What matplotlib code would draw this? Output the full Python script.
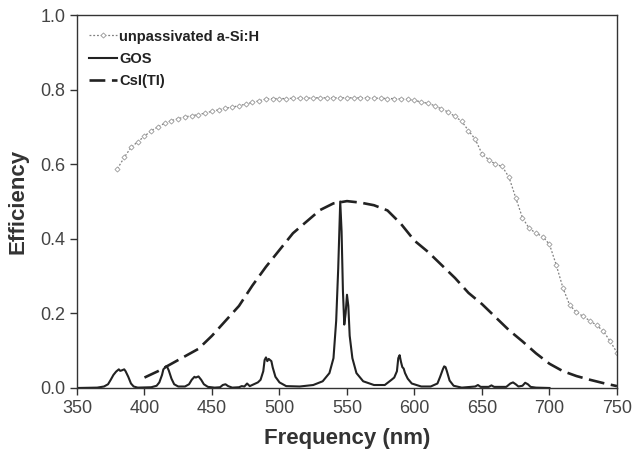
import matplotlib
matplotlib.use("Agg")
import matplotlib.pyplot as plt

plt.rcParams['font.family'] = ['Liberation Sans', 'DejaVu Sans']

# unpassivated a-Si:H
asi_x = [380, 385, 390, 395, 400, 405, 410, 415, 420, 425, 430, 435, 440, 445, 450,
         455, 460, 465, 470, 475, 480, 485, 490, 495, 500, 505, 510, 515, 520, 525,
         530, 535, 540, 545, 550, 555, 560, 565, 570, 575, 580, 585, 590, 595, 600,
         605, 610, 615, 620, 625, 630, 635, 640, 645, 650, 655, 660, 665, 670, 675,
         680, 685, 690, 695, 700, 705, 710, 715, 720, 725, 730, 735, 740, 745, 750]
asi_y = [0.588, 0.618, 0.645, 0.660, 0.675, 0.690, 0.700, 0.710, 0.717, 0.722, 0.727,
         0.730, 0.733, 0.737, 0.742, 0.746, 0.750, 0.753, 0.757, 0.761, 0.766, 0.770,
         0.775, 0.776, 0.776, 0.776, 0.777, 0.777, 0.777, 0.778, 0.778, 0.778, 0.778,
         0.778, 0.778, 0.778, 0.778, 0.778, 0.777, 0.777, 0.776, 0.776, 0.775, 0.774,
         0.771, 0.767, 0.763, 0.757, 0.748, 0.740, 0.728, 0.715, 0.690, 0.667, 0.628,
         0.612, 0.600, 0.594, 0.565, 0.510, 0.456, 0.428, 0.415, 0.406, 0.385, 0.330,
         0.268, 0.222, 0.203, 0.192, 0.180, 0.168, 0.152, 0.125, 0.095]

# GOS emission
gos_x = [350, 365, 370, 373, 375, 377, 379, 381, 382, 383, 385, 386, 388, 390, 392, 395,
         405, 409, 411, 413, 414, 416, 417, 418, 420, 422, 425, 430, 433, 435, 437, 438,
         440, 442, 444, 447, 452, 456, 458, 460, 462, 465, 470, 472, 474, 476, 478, 481,
         484, 486, 488, 489, 490, 491, 492, 494, 495, 497, 500, 505, 515, 525, 532, 537,
         540, 542, 543.5, 545, 546, 547, 548, 549, 550, 551, 552, 554, 557, 562, 570,
         578, 583, 585, 587, 588, 589, 590, 591, 592, 593, 595, 598, 605, 612, 617, 619,
         621, 622, 623, 624, 626, 629, 635, 645, 647, 649, 655, 657, 659, 668, 671, 673,
         675, 677, 680, 682, 684, 686, 690, 700]
gos_y = [0.0, 0.001, 0.004, 0.010, 0.022, 0.035, 0.044, 0.050, 0.046, 0.047, 0.050, 0.045,
         0.030, 0.012, 0.004, 0.001,
         0.002, 0.006, 0.015, 0.035, 0.050, 0.058, 0.055, 0.047, 0.025, 0.010, 0.004,
         0.004, 0.010, 0.022, 0.030, 0.028,
         0.031, 0.022, 0.010, 0.003, 0.001, 0.002, 0.008, 0.010, 0.005, 0.001, 0.002,
         0.005, 0.004, 0.012, 0.005, 0.010,
         0.015, 0.022, 0.045, 0.075, 0.082, 0.072, 0.078, 0.072, 0.055, 0.030, 0.015,
         0.005, 0.004, 0.008, 0.018, 0.040,
         0.080, 0.180, 0.320, 0.500, 0.420, 0.260, 0.170, 0.200, 0.250, 0.220, 0.140,
         0.080, 0.040, 0.018, 0.008,
         0.008, 0.022, 0.028, 0.045, 0.080, 0.088, 0.070, 0.056, 0.052, 0.040, 0.025,
         0.012, 0.004, 0.004, 0.012, 0.030,
         0.050, 0.058, 0.056, 0.045, 0.020, 0.006, 0.001, 0.004, 0.008, 0.003, 0.003,
         0.007, 0.003, 0.003, 0.012, 0.015,
         0.010, 0.004, 0.006, 0.014, 0.010, 0.003, 0.001, 0.0]

# CsI(Tl)
csi_x = [400, 410, 420, 430, 440, 450, 460, 470, 480, 490, 500, 510, 520, 530, 540, 550,
         560, 570, 580, 590, 600, 610, 620, 630, 640, 650, 660, 670, 680, 690, 700, 710,
         720, 730, 740, 750]
csi_y = [0.028, 0.045, 0.065, 0.085, 0.105, 0.140, 0.180, 0.220, 0.275, 0.325, 0.370,
         0.415, 0.446, 0.477, 0.495, 0.501, 0.497, 0.490, 0.476, 0.440, 0.395, 0.365,
         0.330, 0.295, 0.255, 0.225, 0.190, 0.155, 0.125, 0.093, 0.065, 0.045, 0.032,
         0.022, 0.013, 0.005]

labels = ["unpassivated a-Si:H", "GOS", "CsI(TI)"]
x_ticks = [350, 400, 450, 500, 550, 600, 650, 700, 750]
y_ticks = [0.0, 0.2, 0.4, 0.6, 0.8, 1.0]

fig = plt.figure(figsize=(6.33, 4.59), dpi=100)
ax = fig.add_axes([0.1216, 0.1547, 0.8531, 0.8126])

ax.plot(asi_x, asi_y, linestyle=(0, (1.5, 1.5)), color='#808080', linewidth=0.9,
        marker='D', markersize=2.6, markerfacecolor='white', markeredgecolor='#999999',
        markeredgewidth=0.6, label=labels[0])
ax.plot(gos_x, gos_y, color='#222222', linewidth=1.5, label=labels[1])
ax.plot(csi_x, csi_y, color='#222222', linewidth=1.9, dashes=(6, 2.5), label=labels[2])

ax.set_xlim(350, 750)
ax.set_ylim(0, 1.0)
ax.set_xticks(x_ticks)
ax.set_yticks(y_ticks)
ax.set_yticklabels([f"{v:.1f}" for v in y_ticks])
ax.tick_params(direction='out', length=5, width=1, colors='#333333', labelsize=13,
               labelcolor='#444444')
for s in ax.spines.values():
    s.set_color('#333333')
    s.set_linewidth(1.0)

ax.set_xlabel("Frequency (nm)", fontsize=16, fontweight='bold', color='#333333', labelpad=8)
ax.set_ylabel("Efficiency", fontsize=16, fontweight='bold', color='#333333', labelpad=8)

leg = ax.legend(loc='upper left', frameon=False, handlelength=1.9, handletextpad=0.2,
                prop={'weight': 'bold', 'size': 10.5}, labelspacing=0.55,
                bbox_to_anchor=(-0.005, 1.0), borderaxespad=0.6)
for t in leg.get_texts():
    t.set_color('#222222')

fig.savefig("out.png", dpi=100)
